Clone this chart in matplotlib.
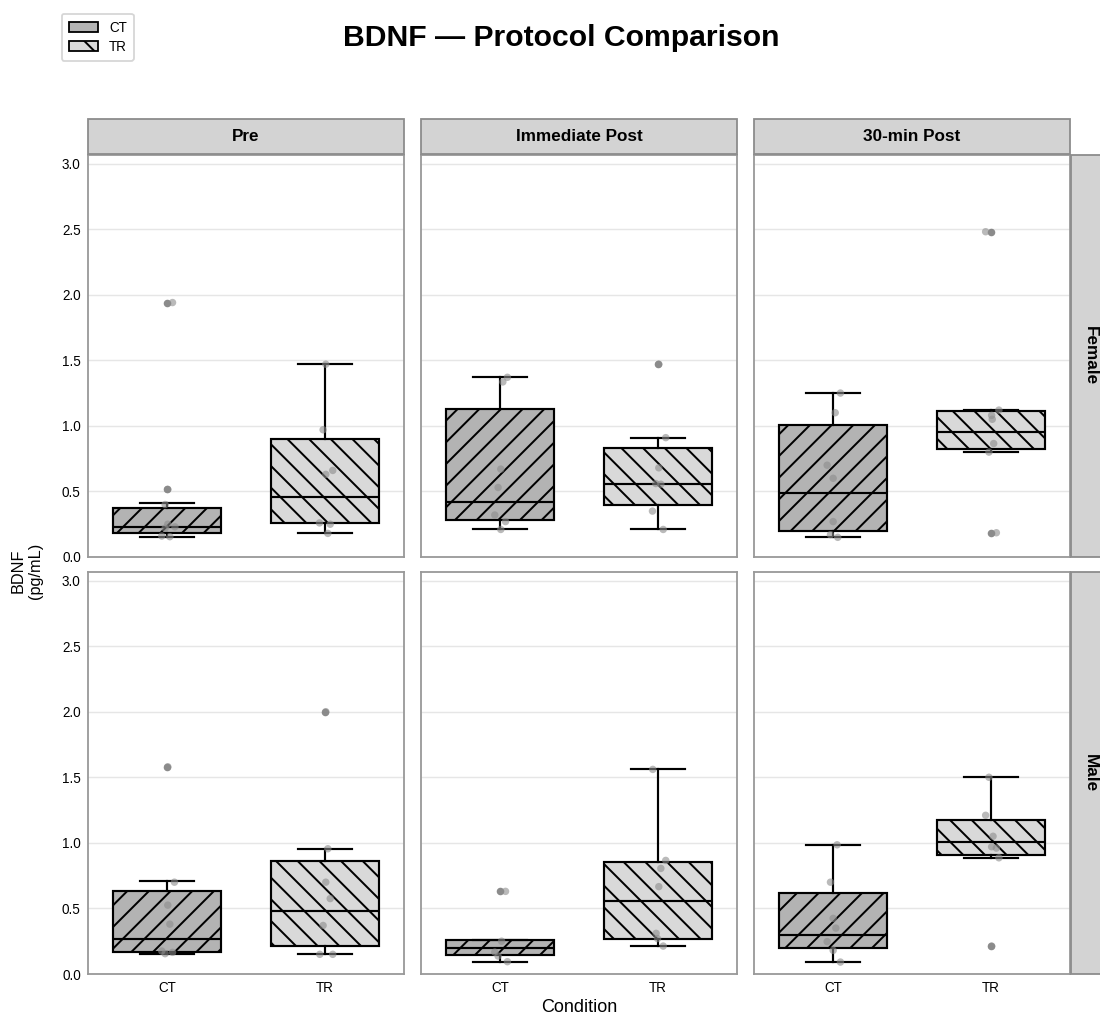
import matplotlib
matplotlib.use('Agg')
import matplotlib.pyplot as plt
from matplotlib.patches import Rectangle, Patch
import numpy as np

plt.rcParams['font.family'] = ['Liberation Sans', 'DejaVu Sans']
plt.rcParams['hatch.linewidth'] = 1.1

timepoints = ['Pre', 'Immediate Post', '30-min Post']
sexes = ['Female', 'Male']
conditions = ['CT', 'TR']

# individual BDNF values (pg/mL)
female_pre_ct = [1.94, 0.515, 0.40, 0.25, 0.23, 0.22, 0.16, 0.155]
female_pre_tr = [1.47, 0.97, 0.66, 0.63, 0.26, 0.25, 0.18]
female_imm_ct = [1.37, 1.335, 0.67, 0.53, 0.32, 0.27, 0.21]
female_imm_tr = [1.47, 0.91, 0.68, 0.56, 0.555, 0.35, 0.21]
female_30_ct = [1.25, 1.10, 0.70, 0.60, 0.27, 0.17, 0.15]
female_30_tr = [2.48, 1.12, 1.08, 1.05, 0.865, 0.80, 0.185]
male_pre_ct = [1.58, 0.70, 0.525, 0.38, 0.175, 0.165, 0.155]
male_pre_tr = [2.00, 0.955, 0.70, 0.575, 0.37, 0.15, 0.15]
male_imm_ct = [0.63, 0.25, 0.167, 0.137, 0.094]
male_imm_tr = [1.56, 0.866, 0.805, 0.666, 0.31, 0.27, 0.213]
male_30_ct = [0.985, 0.70, 0.424, 0.35, 0.247, 0.18, 0.091]
male_30_tr = [1.50, 1.21, 1.05, 0.97, 0.96, 0.886, 0.213]

# horizontal jitter of the strip points (category units)
jit_female_pre_ct = [0.035, 0.005, -0.012, 0.005, 0.05, -0.012, -0.033, 0.018]
jit_female_pre_tr = [0.005, -0.012, 0.049, 0.005, -0.035, 0.033, 0.018]
jit_female_imm_ct = [0.047, 0.018, 0.005, -0.012, -0.033, 0.035, 0.005]
jit_female_imm_tr = [0.005, 0.049, 0.005, -0.014, 0.018, -0.035, 0.033]
jit_female_30_ct = [0.047, 0.014, -0.037, 0.001, 0.001, -0.016, 0.03]
jit_female_30_tr = [-0.034, 0.05, 0.004, 0.008, 0.017, -0.013, 0.034]
jit_male_pre_ct = [0.005, 0.047, 0.005, 0.018, -0.033, 0.035, -0.012]
jit_male_pre_tr = [0.005, 0.018, 0.005, 0.033, -0.012, -0.033, 0.049]
jit_male_imm_ct = [0.035, 0.01, -0.033, -0.012, 0.047]
jit_male_imm_tr = [-0.033, 0.049, 0.018, 0.005, -0.012, -0.003, 0.033]
jit_male_30_ct = [0.026, -0.016, 0.001, 0.018, -0.037, 0.001, 0.047]
jit_male_30_tr = [-0.013, -0.034, 0.013, 0.004, 0.034, 0.05, 0.004]

# box statistics, order: Pre CT, Pre TR, Imm CT, Imm TR, 30 CT, 30 TR
female_q1 = [0.18, 0.26, 0.28, 0.40, 0.195, 0.82]
female_med = [0.23, 0.46, 0.42, 0.56, 0.49, 0.95]
female_q3 = [0.37, 0.90, 1.13, 0.83, 1.005, 1.11]
female_lo = [0.155, 0.18, 0.21, 0.21, 0.15, 0.80]
female_hi = [0.41, 1.47, 1.37, 0.91, 1.25, 1.12]
male_q1 = [0.17, 0.21, 0.148, 0.264, 0.20, 0.906]
male_med = [0.27, 0.48, 0.20, 0.556, 0.295, 1.005]
male_q3 = [0.63, 0.86, 0.257, 0.853, 0.617, 1.173]
male_lo = [0.155, 0.15, 0.094, 0.213, 0.091, 0.886]
male_hi = [0.71, 0.955, 0.257, 1.56, 0.985, 1.503]

points = {
    'Female': [[female_pre_ct, female_pre_tr], [female_imm_ct, female_imm_tr], [female_30_ct, female_30_tr]],
    'Male': [[male_pre_ct, male_pre_tr], [male_imm_ct, male_imm_tr], [male_30_ct, male_30_tr]],
}
jitters = {
    'Female': [[jit_female_pre_ct, jit_female_pre_tr], [jit_female_imm_ct, jit_female_imm_tr],
               [jit_female_30_ct, jit_female_30_tr]],
    'Male': [[jit_male_pre_ct, jit_male_pre_tr], [jit_male_imm_ct, jit_male_imm_tr],
             [jit_male_30_ct, jit_male_30_tr]],
}
boxstats = {
    'Female': (female_q1, female_med, female_q3, female_lo, female_hi),
    'Male': (male_q1, male_med, male_q3, male_lo, male_hi),
}

fills = ['#b3b3b3', '#d9d9d9']
hatches = ['//', '\\\\']

W, H = 1100, 1018
dpi = 130
fig = plt.figure(figsize=(W / dpi, H / dpi), dpi=dpi)

lefts = [88, 421, 754]
panel_w = 316
row_top = [155, 572]
panel_h = 402

for r, sex in enumerate(sexes):
    q1s, meds, q3s, los, his = boxstats[sex]
    for c, tp in enumerate(timepoints):
        ax = fig.add_axes([lefts[c] / W, 1 - (row_top[r] + panel_h) / H, panel_w / W, panel_h / H])
        stats = []
        for k, cond in enumerate(conditions):
            i = 2 * c + k
            v = np.array(points[sex][c][k])
            out = v[(v < los[i] - 1e-9) | (v > his[i] + 1e-9)]
            stats.append(dict(q1=q1s[i], med=meds[i], q3=q3s[i], whislo=los[i], whishi=his[i],
                              fliers=out, label=cond))
        bp = ax.bxp(stats, positions=[0, 1], widths=0.68, patch_artist=True, showfliers=True,
                    boxprops=dict(edgecolor='black', linewidth=1.2),
                    medianprops=dict(color='black', linewidth=1.2),
                    whiskerprops=dict(color='black', linewidth=1.2),
                    capprops=dict(color='black', linewidth=1.2),
                    flierprops=dict(marker='o', markerfacecolor='#777777', markeredgecolor='none',
                                    markersize=4.2, alpha=0.85))
        for patch, fc, ht in zip(bp['boxes'], fills, hatches):
            patch.set_facecolor(fc)
            patch.set_hatch(ht)
        for k in range(2):
            v = np.array(points[sex][c][k])
            x = k + np.array(jitters[sex][c][k])
            ax.scatter(x, v, s=17, color='#8c8c8c', alpha=0.6, edgecolors='none', zorder=4)

        ax.set_xlim(-0.5, 1.5)
        ax.set_ylim(0, 3.065)
        ax.set_yticks(np.arange(0, 3.01, 0.5))
        ax.set_xticks([0, 1])
        ax.set_xticklabels(conditions if r == 1 else [])
        if c != 0:
            ax.set_yticklabels([])
        ax.tick_params(length=0, labelsize=7.5, pad=4)
        ax.grid(axis='y', color='#e6e6e6', linewidth=0.8)
        ax.set_axisbelow(True)
        for s in ax.spines.values():
            s.set_color('#999999')
            s.set_linewidth(1.0)

        if r == 0:
            fig.patches.append(Rectangle((lefts[c] / W, 1 - 154 / H), panel_w / W, 35 / H,
                                         transform=fig.transFigure, facecolor='#d3d3d3',
                                         edgecolor='#8c8c8c', linewidth=1.0))
            fig.text((lefts[c] + panel_w / 2) / W, 1 - 136.5 / H, tp, ha='center', va='center',
                     fontsize=9.5, fontweight='bold')
    fig.patches.append(Rectangle((1071 / W, 1 - (row_top[r] + panel_h) / H), 40 / W, panel_h / H,
                                 transform=fig.transFigure, facecolor='#d3d3d3',
                                 edgecolor='#8c8c8c', linewidth=1.0))
    fig.text(1090 / W, 1 - (row_top[r] + panel_h / 2) / H, sex, rotation=270, ha='center',
             va='center', fontsize=9.5, fontweight='bold')

fig.text(27 / W, 1 - 571 / H, 'BDNF\n(pg/mL)', rotation=90, ha='center', va='center', fontsize=9)
fig.text(579 / W, 1 - 1008 / H, 'Condition', ha='center', va='center', fontsize=10)
fig.text(561 / W, 1 - 38 / H, 'BDNF \u2014 Protocol Comparison', ha='center', va='center',
         fontsize=16.7, fontweight='bold')

leg_hatches = ['/', '\\']
handles = [Patch(facecolor=fills[i], edgecolor='black', hatch=leg_hatches[i], label=conditions[i])
           for i in range(2)]
fig.legend(handles=handles, loc='upper left', bbox_to_anchor=(55 / W, 1 - 7 / H), fontsize=7.5,
           frameon=True, edgecolor='#cccccc', handlelength=2.2, borderpad=0.5, labelspacing=0.4)

fig.savefig('out.png', dpi=dpi)
